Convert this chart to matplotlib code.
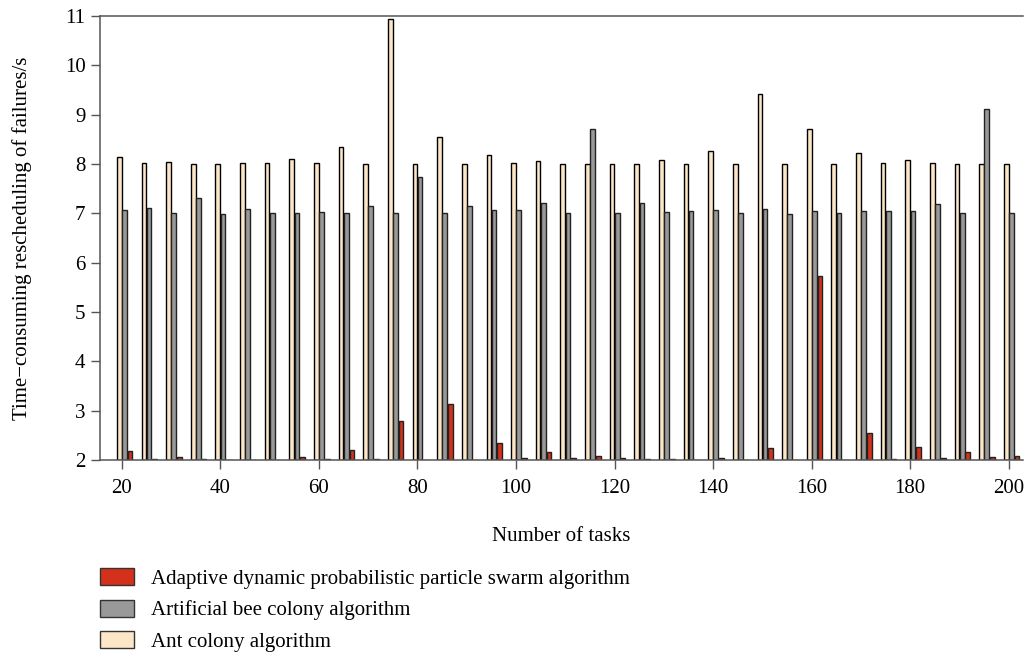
import matplotlib.pyplot as plt
import numpy as np
from matplotlib.patches import Patch

plt.rcParams['font.family'] = ['Liberation Serif', 'DejaVu Serif']

# Number of tasks
tasks = np.arange(20, 205, 5)

# Ant colony algorithm
ant = [8.15, 8.03, 8.04, 8.01, 7.99, 8.03, 8.02, 8.11, 8.02, 8.34,
       8.01, 10.93, 8.00, 8.54, 8.01, 8.19, 8.03, 8.06, 8.01, 7.99,
       7.99, 8.00, 8.08, 8.01, 8.27, 8.00, 9.42, 7.99, 8.70, 8.00,
       8.23, 8.03, 8.08, 8.02, 8.00, 7.99, 7.99]

# Artificial bee colony algorithm
bee = [7.07, 7.11, 7.01, 7.31, 6.99, 7.08, 7.00, 7.00, 7.02, 7.01,
       7.15, 7.00, 7.74, 7.01, 7.15, 7.07, 7.07, 7.20, 7.01, 8.70,
       7.00, 7.21, 7.03, 7.05, 7.06, 7.00, 7.08, 6.99, 7.04, 7.00,
       7.05, 7.05, 7.04, 7.19, 7.00, 9.12, 7.01]

# Adaptive dynamic probabilistic particle swarm algorithm
adpso = [2.19, 2.03, 2.07, 2.02, 2.01, 2.01, 2.01, 2.07, 2.02, 2.21,
         2.02, 2.80, 2.01, 3.14, 2.01, 2.34, 2.04, 2.17, 2.04, 2.08,
         2.05, 2.03, 2.02, 2.01, 2.05, 2.01, 2.24, 2.01, 5.73, 2.01,
         2.55, 2.03, 2.26, 2.05, 2.16, 2.07, 2.08]

c_red = '#d3311b'
c_gray = '#999999'
c_beige = '#fce6c8'

fig = plt.figure(figsize=(10.25, 6.58), dpi=100)
ax = fig.add_axes([0.0976, 0.3009, 0.9, 0.6748])

base = 2
w = 0.95
ax.bar(tasks - 0.5, np.array(ant) - base, w, bottom=base, color=c_beige, edgecolor='black', linewidth=1)
ax.bar(tasks + 0.55, np.array(bee) - base, w, bottom=base, color=c_gray, edgecolor='#222222', linewidth=1)
ax.bar(tasks + 1.7, np.array(adpso) - base, w, bottom=base, color=c_red, edgecolor='#222222', linewidth=1)

ax.set_xlim(15.6, 202.8)
ax.set_ylim(2, 11)
ax.set_xticks(np.arange(20, 201, 20))
ax.set_yticks(np.arange(2, 12, 1))
ax.tick_params(direction='out', length=6.5, width=1, color='#555555', labelsize=15, pad=4)
ax.tick_params(axis='x', pad=7)

ax.spines['right'].set_visible(False)
for s in ['left', 'bottom', 'top']:
    ax.spines[s].set_color('#555555')
    ax.spines[s].set_linewidth(1.1)

ax.set_xlabel('Number of tasks', fontsize=15)
ax.set_ylabel('Time\u2212consuming rescheduling of failures/s', fontsize=15)
ax.xaxis.set_label_coords(0.5, -0.151)
ax.yaxis.set_label_coords(-0.074, 0.5)

handles = [Patch(facecolor=c_red, edgecolor='#333333'),
           Patch(facecolor=c_gray, edgecolor='#333333'),
           Patch(facecolor=c_beige, edgecolor='#333333')]
labels = ['Adaptive dynamic probabilistic particle swarm algorithm',
          'Artificial bee colony algorithm',
          'Ant colony algorithm']
fig.legend(handles, labels, loc='upper left', bbox_to_anchor=(0.0976, 0.137),
           bbox_transform=fig.transFigure, frameon=False, fontsize=15,
           handlelength=1.63, handleheight=0.9, labelspacing=0.52, handletextpad=0.8,
           borderaxespad=0, borderpad=0)

fig.savefig('out.png', dpi=100)
